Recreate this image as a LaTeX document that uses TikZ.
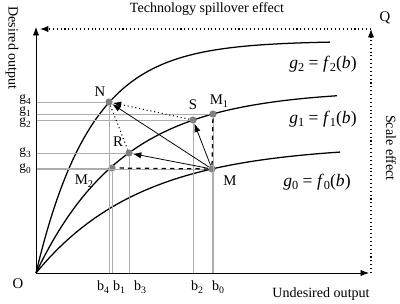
\documentclass[tikz,border=0pt]{standalone}
\usepackage{fontspec}
\setmainfont{Liberation Serif}
\usetikzlibrary{arrows.meta}
\newcommand{\lowsub}[1]{\raisebox{-0.45ex}{\scalebox{0.7}{#1}}}
\newcommand{\fnlab}[1]{\textit{g}\lowsub{#1} = \textit{f}\lowsub{#1}(\textit{b})}
\begin{document}
\begin{tikzpicture}[x=0.025cm,y=-0.025cm,
  txt/.style={font=\fontsize{10}{12}\selectfont, inner sep=0pt},
  ptl/.style={font=\fontsize{10.5}{12}\selectfont, inner sep=0pt},
  glab/.style={font=\fontsize{9.5}{11}\selectfont, inner sep=0pt},
  fnl/.style={font=\fontsize{12.5}{14}\selectfont, inner sep=0pt},
  pt/.style={circle, fill=black!50, inner sep=0pt, minimum size=0.18cm},
  guide/.style={draw=black!32, line width=0.6pt},
  curve/.style={line width=0.9pt},
  axis/.style={line width=0.6pt, -{Latex[length=6pt,width=4.5pt]}},
  mv/.style={line width=0.55pt, -{Latex[length=6pt,width=4.5pt]}},
  dotl/.style={dotted, line width=0.75pt},
  dashl/.style={dashed, line width=0.9pt}]
\useasboundingbox (0,0) rectangle (400,303);

% frame coordinates
\coordinate (O) at (36,273);
\coordinate (Ytop) at (36,27);
\coordinate (Xend) at (369,273);
\coordinate (Rb) at (371,273);
\coordinate (Qc) at (371,29);
\coordinate (Tl) at (40,29);

% curves g = A(1 - exp(-b/k))
\draw[curve] plot[domain=0:294, samples=120, smooth] ({36+\x},{273-232*(1-exp(-\x/55))});
\draw[curve] plot[domain=0:301, samples=120, smooth] ({36+\x},{273-183*(1-exp(-\x/87))});
\draw[curve] plot[domain=0:304, samples=120, smooth] ({36+\x},{273-128*(1-exp(-\x/105))});

% points
\node[pt] (N) at (109,102) {};
\node[pt] (S) at (193,120) {};
\node[pt] (M1) at (213,114) {};
\node[pt] (R) at (129,153) {};
\node[pt] (M2) at (112,168) {};
\node[pt] (M) at (212,169) {};

% guide lines
\foreach \p in {N,S,M1,R,M2,M}{
  \draw[guide] (\p -| O) -- (\p.west |- \p);
  \draw[guide] (\p.south) -- (\p |- O);
}

% axes
\draw[axis] (O) -- (Ytop);
\draw[axis] (O) -- (Xend);
\draw[dotl, -{Latex[length=6pt,width=4.5pt]}] (Rb) -- (Qc);
\draw[dotl, -{Latex[length=6pt,width=4.5pt]}] (Qc) -- (Tl);

% movements
\draw[dashl] (M) -- (M1);
\draw[dashl] (M) -- (M2);
\draw[dotl] (N) -- (R);
\draw[dotl, -{Latex[length=6pt,width=4.5pt]}] (S) -- (N);
\draw[mv] (M) -- (N);
\draw[mv] (M) -- (S);
\draw[mv] (M) -- (R);

% point labels
\node[ptl] (lN) at (100,92) {N};
\node[ptl] (lS) at (193,105) {S};
\node[ptl] (lM1) at (219,101) {M\lowsub{1}};
\node[ptl] (lR) at (118,142) {R};
\node[ptl] (lM2) at (84,181) {M\lowsub{2}};
\node[ptl] (lM) at (230,181) {M};
\node[ptl] (lO) at (18,284) {O};
\node[ptl] (lQ) at (385,18) {Q};

% g labels
\node[glab] (g4) at (25,100) {g\lowsub{4}};
\node[glab] (g1) at (25,111.5) {g\lowsub{1}};
\node[glab] (g2) at (25,123) {g\lowsub{2}};
\node[glab] (g3) at (25,153) {g\lowsub{3}};
\node[glab] (g0) at (25,169) {g\lowsub{0}};

% b labels
\node[txt] (b4) at (103,287) {b\lowsub{4}};
\node[txt] (b1) at (119,287) {b\lowsub{1}};
\node[txt] (b3) at (140,287) {b\lowsub{3}};
\node[txt] (b2) at (197,287) {b\lowsub{2}};
\node[txt] (b0) at (218,287) {b\lowsub{0}};

% function labels
\node[fnl] (f2) at (323,64) {\fnlab{2}};
\node[fnl] (f1) at (323,119) {\fnlab{1}};
\node[fnl] (f0) at (317,182) {\fnlab{0}};

% axis / effect texts
\node[txt] (tTop) at (207,9) {Technology spillover effect};
\node[txt] (tX) at (321,294) {Undesired output};
\node[txt, rotate=-90] (tY) at (12,48) {Desired output};
\node[txt, rotate=-90] (tS) at (391,148) {Scale effect};
\end{tikzpicture}
\end{document}
